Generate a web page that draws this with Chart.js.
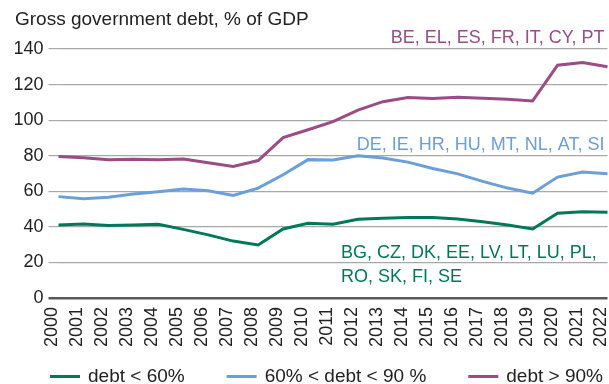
<!DOCTYPE html>
<html lang="en">
<head>
<meta charset="UTF-8">
<title>Gross government debt</title>
<script src="https://cdn.jsdelivr.net/npm/chart.js@4.4.1/dist/chart.umd.min.js"></script>
<style>
  html, body { margin: 0; padding: 0; background: #fff; }
  .chart-container { position: relative; width: 609px; height: 384px; }
</style>
</head>
<body>
<div class="chart-container"><canvas id="debtChart"></canvas></div>

<script>
const years = ['2000', '2001', '2002', '2003', '2004', '2005', '2006', '2007', '2008', '2009', '2010',
  '2011', '2012', '2013', '2014', '2015', '2016', '2017', '2018', '2019', '2020', '2021', '2022'];

// debt ratio by group, % of GDP
const debtLow = [41.0, 41.6, 40.8, 41.0, 41.5, 38.6, 35.5, 32.0, 29.8, 38.8, 42.0, 41.5,
  44.3, 44.8, 45.2, 45.2, 44.4, 42.9, 41.0, 38.8, 47.6, 48.5, 48.2];
const debtMid = [57.0, 55.8, 56.6, 58.5, 59.8, 61.3, 60.3, 57.7, 61.8, 69.3, 77.8, 77.6,
  80.0, 78.7, 76.4, 72.8, 69.8, 65.6, 61.8, 58.9, 68.0, 70.8, 69.8];
const debtHigh = [79.5, 78.8, 77.8, 78.0, 77.8, 78.2, 76.0, 73.9, 77.3, 90.2, 94.6, 99.2,
  105.6, 110.4, 112.7, 112.1, 112.9, 112.3, 111.8, 110.8, 130.9, 132.4, 130.0];

const groupLow = ['BG, CZ, DK, EE, LV, LT, LU, PL,', 'RO, SK, FI, SE'];
const groupMid = ['DE, IE, HR, HU, MT, NL, AT, SI'];
const groupHigh = ['BE, EL, ES, FR, IT, CY, PT'];

const GREEN = '#00785a';
const BLUE = '#6a9fd9';
const PURPLE = '#9b4b86';
const FONT = 'Arial, "Liberation Sans", Helvetica, sans-serif';

Chart.defaults.font.family = FONT;
Chart.defaults.color = '#222';

// country lists written next to each line
const groupLabels = {
  id: 'groupLabels',
  afterDatasetsDraw(chart) {
    const { ctx, chartArea, scales: { x, y } } = chart;
    ctx.save();
    ctx.font = '18px ' + FONT;
    ctx.textBaseline = 'middle';

    ctx.textAlign = 'right';
    ctx.fillStyle = PURPLE;
    ctx.fillText(groupHigh[0], chartArea.right - 3, y.getPixelForValue(146));
    ctx.fillStyle = BLUE;
    ctx.fillText(groupMid[0], chartArea.right - 3, y.getPixelForValue(86));

    ctx.textAlign = 'left';
    ctx.fillStyle = GREEN;
    const left = x.getPixelForValue(11) + 8;
    ctx.fillText(groupLow[0], left, y.getPixelForValue(25.3));
    ctx.fillText(groupLow[1], left, y.getPixelForValue(12));
    ctx.restore();
  }
};

// legend row along the bottom: short line sample + series name, wide gaps
const bottomLegend = {
  id: 'bottomLegend',
  afterDraw(chart) {
    const { ctx } = chart;
    const rowY = chart.height - 7;
    let x = 50;
    ctx.save();
    ctx.font = '19px ' + FONT;
    ctx.textBaseline = 'middle';
    ctx.textAlign = 'left';
    chart.data.datasets.forEach(ds => {
      ctx.strokeStyle = ds.borderColor;
      ctx.lineWidth = 3;
      ctx.beginPath();
      ctx.moveTo(x, rowY - 0.5);
      ctx.lineTo(x + 30, rowY - 0.5);
      ctx.stroke();
      ctx.fillStyle = '#222';
      ctx.fillText(ds.label, x + 38, rowY);
      x += 38 + ctx.measureText(ds.label).width + 42;
    });
    ctx.restore();
  }
};

function line(label, data, color) {
  return {
    label: label,
    data: data,
    borderColor: color,
    backgroundColor: color,
    borderWidth: 3,
    pointRadius: 0,
    tension: 0,
    fill: false
  };
}

new Chart(document.getElementById('debtChart'), {
  type: 'line',
  data: {
    labels: years,
    datasets: [
      line('debt < 60%', debtLow, GREEN),
      line('60% < debt < 90 %', debtMid, BLUE),
      line('debt > 90%', debtHigh, PURPLE)
    ]
  },
  options: {
    responsive: true,
    maintainAspectRatio: false,
    animation: false,
    layout: { padding: { left: 15, right: 1.5, top: 0, bottom: 36 } },
    plugins: {
      title: {
        display: true,
        text: 'Gross government debt, % of GDP',
        align: 'start',
        color: '#222',
        font: { size: 19, weight: 'normal' },
        padding: { top: 8, bottom: 18.2 }
      },
      legend: { display: false },
      tooltip: { enabled: false }
    },
    scales: {
      x: {
        offset: false,
        grid: { display: false, drawTicks: false },
        border: { display: false },
        ticks: {
          minRotation: 90,
          maxRotation: 90,
          autoSkip: false,
          padding: 9,
          labelOffset: -6,
          font: { size: 18 }
        },
        afterFit(scale) {
          scale.height = 50;
          scale.paddingLeft = 0;
          scale.paddingRight = 0;
        }
      },
      y: {
        min: 0,
        max: 140,
        border: { display: false },
        ticks: { stepSize: 20, padding: 5, font: { size: 18 } },
        grid: {
          color: ctx => ctx.tick && ctx.tick.value === 0 ? '#595959' : '#a8a8a8',
          lineWidth: ctx => ctx.tick && ctx.tick.value === 0 ? 2.5 : 1.2,
          drawTicks: true,
          tickLength: 10
        },
        afterFit(scale) {
          scale.width = 43.5;
        }
      }
    }
  },
  plugins: [groupLabels, bottomLegend]
});
</script>
</body>
</html>
